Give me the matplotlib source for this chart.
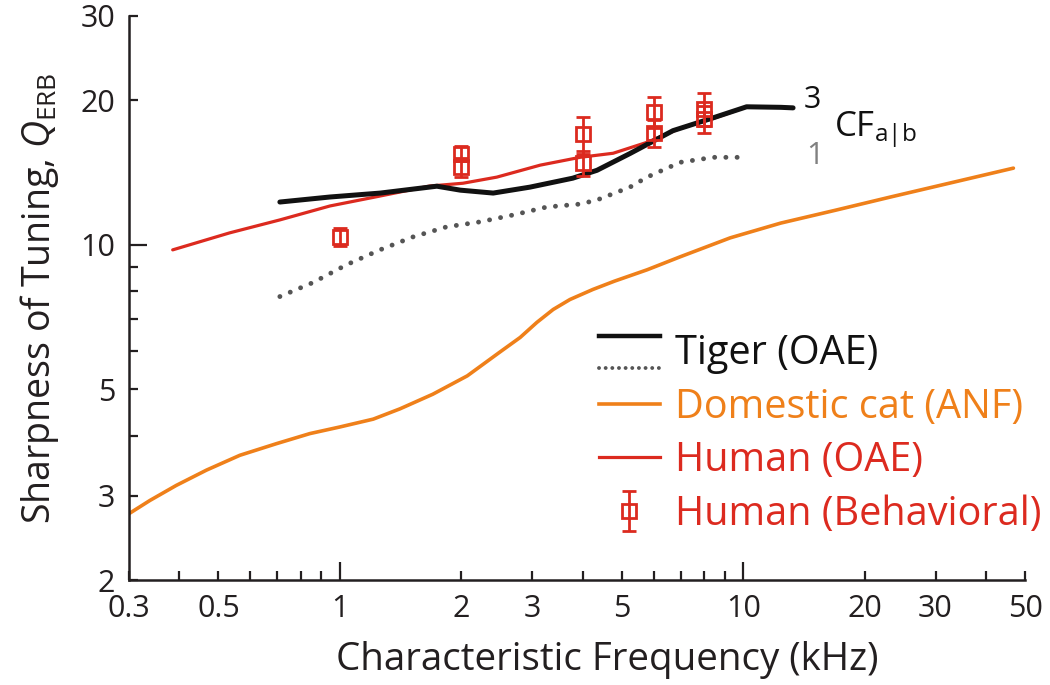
import matplotlib
matplotlib.use("Agg")
import matplotlib.pyplot as plt
import numpy as np
from matplotlib.lines import Line2D
from matplotlib.legend_handler import HandlerBase
from matplotlib.ticker import FixedLocator, LogLocator, FuncFormatter

plt.rcParams['font.family'] = ['Open Sans', 'DejaVu Sans']
plt.rcParams['mathtext.fontset'] = 'custom'
plt.rcParams['mathtext.rm'] = 'Open Sans'
plt.rcParams['mathtext.it'] = 'Open Sans:italic'

# Tiger (OAE), 3 CF (solid black)
tiger3_f = [0.71, 0.945, 1.26, 1.74, 1.99, 2.40, 2.96, 3.78, 4.34, 5.24, 6.70, 8.43, 10.2, 12.4, 13.3]
tiger3_q = [12.28, 12.58, 12.82, 13.25, 13.0, 12.82, 13.19, 13.77, 14.3, 15.5, 17.3, 18.4, 19.4, 19.35, 19.3]

# Tiger (OAE), 1 CF (dotted grey)
tiger1_f = [0.71, 0.857, 1.04, 1.257, 1.52, 1.84, 2.22, 2.69, 3.26, 3.94, 4.34, 5.24, 5.78, 6.98, 8.43, 10.2]
tiger1_q = [7.80, 8.34, 9.09, 9.76, 10.39, 10.90, 11.16, 11.54, 11.99, 12.16, 12.40, 13.19, 13.84, 14.86, 15.22, 15.22]

# Domestic cat (ANF)
cat_f = [0.3, 0.338, 0.393, 0.467, 0.565, 0.697, 0.843, 1.0, 1.21, 1.41, 1.70, 2.07, 2.49,
         2.80, 3.08, 3.38, 3.72, 4.24, 4.80, 5.78, 6.98, 9.29, 12.4, 16.9, 23.2, 46.8]
cat_q = [2.75, 2.93, 3.15, 3.39, 3.64, 3.85, 4.04, 4.17, 4.33, 4.55, 4.88, 5.33, 5.97,
         6.41, 6.89, 7.33, 7.69, 8.07, 8.40, 8.87, 9.44, 10.34, 11.10, 11.8, 12.58, 14.45]

# Human (OAE)
human_f = [0.385, 0.533, 0.71, 0.945, 1.235, 1.67, 2.02, 2.45, 3.14, 3.94, 4.76, 5.78, 6.98, 8.43, 10.1]
human_q = [9.76, 10.59, 11.27, 12.05, 12.6, 13.26, 13.44, 13.84, 14.66, 15.22, 15.52, 16.36, 17.49, 18.34, 19.33]

# Human (Behavioral)
beh_f = [1, 2, 2, 4, 4, 6, 6, 8, 8]
beh_q = [10.4, 15.5, 14.5, 17.0, 14.8, 18.9, 17.1, 19.2, 18.3]
beh_err = [0.45, 0.55, 0.65, 1.5, 0.9, 1.4, 1.1, 1.5, 1.2]

xtick_labels = [0.3, 0.5, 1, 2, 3, 5, 10, 20, 30, 50]
ytick_labels = [2, 3, 5, 10, 20, 30]

RED = '#dc2a1f'
ORANGE = '#ef801a'
BLACK = '#111111'
GREY = '#555555'
AXC = '#231f20'

fig = plt.figure(figsize=(10.5, 6.85), dpi=100)
ax = fig.add_axes([129 / 1050, 1 - 580 / 685, 896 / 1050, 564 / 685])

ax.plot(cat_f, cat_q, color=ORANGE, lw=2.6, solid_capstyle='round', solid_joinstyle='round', zorder=2)
ax.plot(tiger1_f, tiger1_q, color=GREY, lw=3.5, linestyle=(0, (0.01, 2.3)),
        dash_capstyle='round', zorder=2)
ax.plot(human_f, human_q, color=RED, lw=2.3, solid_capstyle='round', solid_joinstyle='round', zorder=3)
ax.plot(tiger3_f, tiger3_q, color=BLACK, lw=3.6, solid_capstyle='round', solid_joinstyle='round', zorder=4)
eb = ax.errorbar(beh_f, beh_q, yerr=beh_err, fmt='s', color=RED, mfc='none', mec=RED,
                 ms=10, mew=2, ecolor=RED, elinewidth=2, capsize=5, capthick=2, zorder=5)

ax.set_xscale('log')
ax.set_yscale('log')
ax.set_xlim(0.3, 50)
ax.set_ylim(2, 30)

def fmt_x(v, p):
    return '%g' % v if any(np.isclose(v, t) for t in xtick_labels) else ''

def fmt_y(v, p):
    return '%g' % v if any(np.isclose(v, t) for t in ytick_labels) else ''

ax.xaxis.set_major_locator(FixedLocator([1, 10]))
ax.xaxis.set_minor_locator(LogLocator(base=10, subs=np.arange(2, 10), numticks=20))
ax.yaxis.set_major_locator(FixedLocator([10]))
ax.yaxis.set_minor_locator(LogLocator(base=10, subs=np.arange(2, 10), numticks=20))
for a, f in ((ax.xaxis, fmt_x), (ax.yaxis, fmt_y)):
    a.set_major_formatter(FuncFormatter(f))
    a.set_minor_formatter(FuncFormatter(f))

for s in ('top', 'right'):
    ax.spines[s].set_visible(False)
for s in ('left', 'bottom'):
    ax.spines[s].set_linewidth(1.8)
    ax.spines[s].set_color(AXC)
ax.tick_params(which='both', direction='in', width=1.6, color=AXC, labelsize=22, labelcolor=AXC)
ax.tick_params(which='major', length=13)
ax.tick_params(which='minor', length=6.5)
ax.tick_params(axis='both', which='both', pad=10)

ax.set_xlabel('Characteristic Frequency (kHz)', fontsize=27.7, color=AXC, labelpad=12, x=0.534)
ax.set_ylabel(r'Sharpness of Tuning, $\mathit{Q}_{\mathrm{ERB}}$', fontsize=27, color=AXC, labelpad=14)

# CF annotation
ax.text(14.1, 20.0, '3', fontsize=22, color=BLACK, ha='left', va='center')
ax.text(14.3, 15.3, '1', fontsize=22, color='#808080', ha='left', va='center')
ax.text(16.8, 17.3, r'CF$_{\mathrm{a|b}}$', fontsize=25, color=BLACK, ha='left', va='center')


class TigerHandler(HandlerBase):
    def create_artists(self, legend, orig_handle, xdescent, ydescent, width, height, fontsize, trans):
        l1 = Line2D([-xdescent, width - xdescent], [height * 1.0 - ydescent] * 2,
                    color=BLACK, lw=3.2, transform=trans)
        l2 = Line2D([-xdescent, width - xdescent], [-0.15 * height - ydescent] * 2,
                    color=GREY, lw=2.8, linestyle=(0, (0.01, 1.7)), dash_capstyle='round',
                    transform=trans)
        return [l1, l2]


tiger_h = Line2D([], [], color=BLACK)
cat_h = Line2D([], [], color=ORANGE, lw=2.6)
hum_h = Line2D([], [], color=RED, lw=2.3)
leg = ax.legend([tiger_h, cat_h, hum_h, eb],
                ['Tiger (OAE)', 'Domestic cat (ANF)', 'Human (OAE)', 'Human (Behavioral)'],
                handler_map={tiger_h: TigerHandler()},
                loc='lower left', bbox_to_anchor=(0.524, 0.08), frameon=False,
                fontsize=28.5, borderpad=0, borderaxespad=0, handlelength=1.55,
                handletextpad=0.38, labelspacing=0.33)
for t, c in zip(leg.get_texts(), [BLACK, ORANGE, RED, RED]):
    t.set_color(c)

fig.savefig('out.png', dpi=100)
